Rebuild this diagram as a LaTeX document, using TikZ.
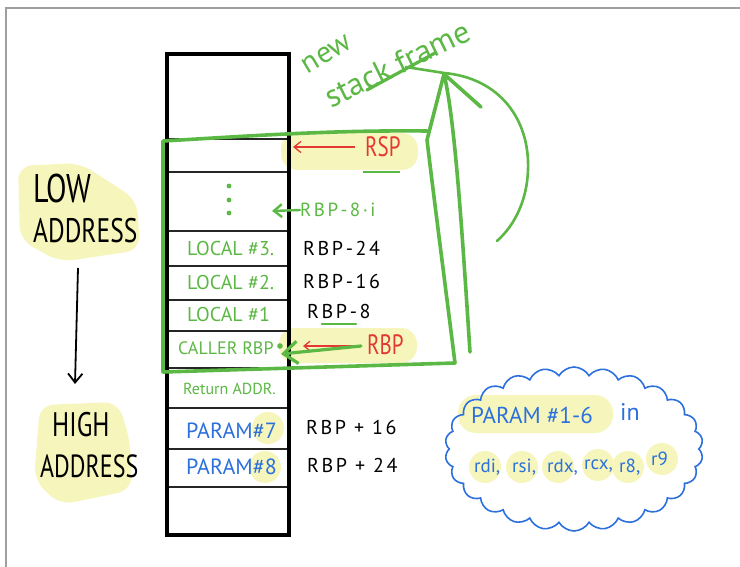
\documentclass[tikz,border=0pt]{standalone}
\usepackage{fontspec}
\newfontfamily\hand{PT Sans}
\newfontfamily\handn[FakeStretch=0.75]{PT Sans}
\newfontfamily\handw[LetterSpace=13]{PT Sans}
\newcommand\fsz[2]{#1\fontsize{#2}{#2}\selectfont}
\usetikzlibrary{arrows.meta,shapes.symbols}
\definecolor{pen}{HTML}{5CB844}
\definecolor{ink}{HTML}{E23A33}
\definecolor{sky}{HTML}{2B70DD}
\definecolor{marker}{HTML}{F6F6BC}
\begin{document}
\begin{tikzpicture}[x=1pt,y=-1pt,
  lbl/.style={inner sep=0pt, anchor=west},
  celltxt/.style={lbl, text=pen, font=\fsz\hand{20}},
  offtxt/.style={lbl, text=black, font=\fsz\handw{20}},
  regtxt/.style={lbl, font=\fsz\hand{19}, text=sky},
  hilite/.style={fill=marker, draw=none},
  rowline/.style={line width=1.4pt, black!85},
  greenpen/.style={draw=pen, line width=3.6pt, line cap=round, line join=round},
  barb/.style={-{Straight Barb[length=#1, width=#1*1.6]}}
]
\useasboundingbox (0,0) rectangle (740,567);
\fill[white] (0,0) rectangle (740,567);
% page edge
\draw[gray!75, line width=1.4pt] (6,567) -- (6,8) -- (740,8);

% ---- highlighter marks ----
\fill[hilite, rounded corners=14pt] (18,166) -- (80,163) -- (137,200) -- (140,250) -- (60,262) -- (20,240) -- cycle;
\fill[hilite, rounded corners=14pt] (40,405) -- (118,402) -- (130,440) -- (132,490) -- (60,505) -- (34,480) -- cycle;
\fill[hilite, rounded corners=16pt] (281,133) rectangle (418,170);
\fill[hilite, rounded corners=16pt] (279,328) rectangle (417,363);
\fill[hilite] (268,428) circle (16);
\fill[hilite] (265,467) circle (16);
\fill[hilite, rounded corners=18pt] (458,395) rectangle (613,433);
\foreach \cx/\cy in {485/467, 522/467, 558/467, 598/465, 628/467, 662/459}
  \fill[hilite] (\cx,\cy) circle (16);

% ---- stack ----
\foreach \yy in {139,172,231,266,300,331,368,408,449,487}
  \draw[rowline] (167,\yy) -- (289,\yy);
\draw[line width=3.6pt, black] (167,54) rectangle (289,535);

% slot contents
\foreach \yy in {186,200,213} \fill[pen] (229,\yy) circle (2.4);
\node[celltxt] (l3) at (187,248) {LOCAL \#3.};
\node[celltxt] (l2) at (187,283) {LOCAL \#2.};
\node[celltxt] (l1) at (187,314) {LOCAL \#1};
\node[celltxt, font=\fsz\hand{18}] (crbp) at (178,348) {CALLER RBP};
\fill[pen] (280,346) circle (2.8);
\node[lbl, text=pen, font=\fsz\hand{16}] (ret) at (183,389) {Return ADDR.};
\node[lbl, text=sky, font=\fsz\hand{22}] (p7) at (186,431) {PARAM\#7};
\node[lbl, text=sky, font=\fsz\hand{22}] (p8) at (186,467) {PARAM\#8};

% offsets
\node[offtxt] (o24) at (303,248) {RBP-24};
\node[offtxt] (o16) at (303,281) {RBP-16};
\node[offtxt] (o8) at (307,312) {RBP-8};
\draw[pen, line width=2.4pt, line cap=round] (322,324) -- (356,324);
\node[offtxt] (p16) at (306,427) {RBP + 16};
\node[offtxt] (p24) at (307,465) {RBP + 24};

% stack pointer
\coordinate (rspend) at (293,147);
\node[lbl, text=ink, font=\fsz\handn{28}] (rsp) at (365,147) {RSP};
\draw[ink, line width=1.3pt, barb=7pt] (355,147) -- (rspend);
\draw[pen, line width=1.5pt] (363,172) -- (400,172);

% base pointer
\coordinate (rbpend) at (281,354);
\node[lbl, text=ink, font=\fsz\handn{28}] (rbp) at (367,345) {RBP};
\draw[ink, line width=1.3pt, barb=6pt] (362,346) -- (303,346);
\draw[pen, line width=3.2pt, line cap=round, barb=14pt] (361,346) -- (rbpend);

% frame index
\coordinate (dotend) at (272,211);
\node[lbl, text=pen, font=\fsz\handw{19}] (rbpi) at (300,210) {RBP-8·i};
\draw[pen, line width=2.4pt, line cap=round, barb=8pt] (rbpi.west) -- (dotend);

% ---- new stack frame outline ----
\draw[greenpen] (427,131) .. controls (330,130) and (250,136) .. (163,141)
  -- (163,372) -- (455,363)
  .. controls (442,260) and (433,190) .. (427,140) -- (444,74);
\draw[greenpen] (470,352) .. controls (462,230) and (455,120) .. (444,74) -- (481,107);
\draw[pen, line width=2.6pt, line cap=round] (406,67) -- (444,73)
  .. controls (500,78) and (530,120) .. (528,170)
  .. controls (527,200) and (515,225) .. (497,241);
\node[inner sep=0pt, text=pen, font=\fsz\hand{30}, rotate=31] (newlbl) at (327,54) {new};
\node[inner sep=0pt, text=pen, font=\fsz\hand{32}, rotate=26] (sflbl) at (397,64) {stack frame};
\draw[pen, line width=3.2pt, line cap=round] (367,90) -- (435,53);

% ---- address direction ----
\node[lbl, text=black, font=\fsz\handn{40}] (low) at (33,189) {LOW};
\node[lbl, text=black, font=\fsz\handn{34}] (lowaddr) at (33,231) {ADDRESS};
\node[lbl, text=black, font=\fsz\handn{34}] (high) at (52,425) {HIGH};
\node[lbl, text=black, font=\fsz\handn{32}] (highaddr) at (40,466) {ADDRESS};
\draw[black, line width=1.8pt, barb=9pt] (78,268) -- (75,384);

% ---- register note ----
\node[cloud, draw=sky, line width=1.6pt, cloud puffs=26, cloud puff arc=120,
      minimum width=258pt, minimum height=164pt, aspect=1.6] (note) at (574,449) {};
\node[lbl, text=sky, font=\fsz\hand{23}] (prm) at (471,415) {PARAM \#1-6};
\node[lbl, text=sky, font=\fsz\hand{24}] (inw) at (620,412) {in};
\node[regtxt] (rdi) at (474,467) {rdi,};
\node[regtxt] (rsi) at (512,467) {rsi,};
\node[regtxt] (rdx) at (547,467) {rdx,};
\node[regtxt] (rcx) at (584,466) {rcx,};
\node[regtxt] (r8) at (619,467) {r8,};
\node[regtxt] (r9) at (651,459) {r9};
\end{tikzpicture}
\end{document}
